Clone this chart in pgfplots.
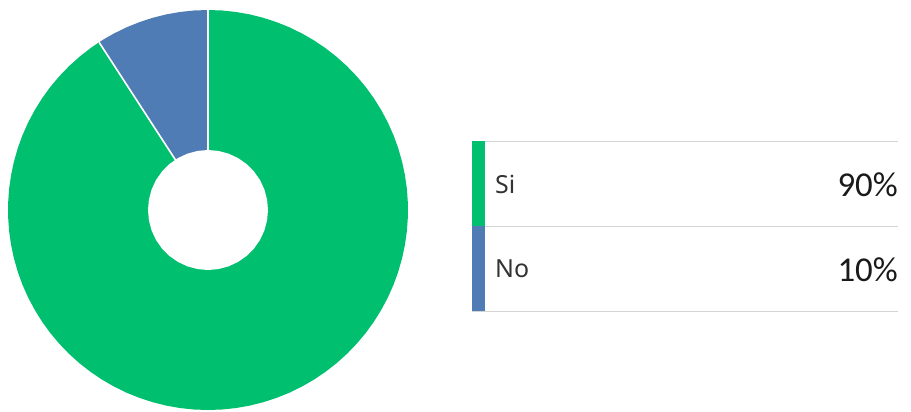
\documentclass[border=0pt]{standalone}
\usepackage{fontspec}
\setmainfont{Noto Sans}
\newfontfamily\numfont{Carlito}
\newfontfamily\labfont{Noto Sans}
\usepackage{pgfplots}
\pgfplotsset{compat=1.18}
\usepgfplotslibrary{polar}
\definecolor{cgreen}{HTML}{00BF6F}
\definecolor{cblue}{HTML}{507CB6}
\definecolor{cline}{HTML}{D4D4D4}
\begin{document}
\begin{tikzpicture}[x=1bp,y=1bp]
\path (0,0) rectangle (911,411);
\begin{polaraxis}[hide axis, width=400bp, height=400bp, scale only axis,
  ymin=0, ymax=1, at={(208bp,201bp)}, anchor=center, clip=false]
% Si : from 123 to 450 degrees
\addplot[fill=cgreen, draw=none] coordinates {(0,0)
(123,1) (126,1) (130,1) (134,1) (138,1) (142,1) (146,1) (150,1) (154,1) (158,1) (162,1)
(166,1) (170,1) (174,1) (178,1) (182,1) (186,1) (190,1) (194,1) (198,1) (202,1)
(206,1) (210,1) (214,1) (218,1) (222,1) (226,1) (230,1) (234,1) (238,1) (242,1)
(246,1) (250,1) (254,1) (258,1) (262,1) (266,1) (270,1) (274,1) (278,1) (282,1)
(286,1) (290,1) (294,1) (298,1) (302,1) (306,1) (310,1) (314,1) (318,1) (322,1)
(326,1) (330,1) (334,1) (338,1) (342,1) (346,1) (350,1) (354,1) (358,1) (362,1)
(366,1) (370,1) (374,1) (378,1) (382,1) (386,1) (390,1) (394,1) (398,1) (402,1)
(406,1) (410,1) (414,1) (418,1) (422,1) (426,1) (430,1) (434,1) (438,1) (442,1)
(446,1) (450,1)} -- cycle;
% No : from 90 to 123 degrees
\addplot[fill=cblue, draw=none] coordinates {(0,0)
(90,1) (94,1) (98,1) (102,1) (106,1) (110,1) (114,1) (118,1) (121,1) (123,1)} -- cycle;
% separators
\addplot[white, line width=1.6bp] coordinates {(90,0) (90,1)};
\addplot[white, line width=1.6bp] coordinates {(123,0) (123,1)};
% hole
\addplot[fill=white, draw=none] coordinates {
(0,0.3) (10,0.3) (20,0.3) (30,0.3) (40,0.3) (50,0.3) (60,0.3) (70,0.3) (80,0.3)
(90,0.3) (100,0.3) (110,0.3) (120,0.3) (130,0.3) (140,0.3) (150,0.3) (160,0.3)
(170,0.3) (180,0.3) (190,0.3) (200,0.3) (210,0.3) (220,0.3) (230,0.3) (240,0.3)
(250,0.3) (260,0.3) (270,0.3) (280,0.3) (290,0.3) (300,0.3) (310,0.3) (320,0.3)
(330,0.3) (340,0.3) (350,0.3)} -- cycle;
\end{polaraxis}
% legend table
\draw[cline, line width=1bp] (472,270) -- (898,270);
\draw[cline, line width=1bp] (472,185) -- (898,185);
\draw[cline, line width=1bp] (472,100) -- (898,100);
\fill[cgreen] (472,185) rectangle (485,270);
\fill[cblue] (472,100) rectangle (485,185);
\node[anchor=west, font=\labfont\fontsize{25}{28}\selectfont, text=black!80, inner sep=0] at (495,227) {Si};
\node[anchor=west, font=\labfont\fontsize{25}{28}\selectfont, text=black!80, inner sep=0] at (495,142) {No};
\node[anchor=east, font=\numfont\fontsize{35}{40}\selectfont, text=black!90, inner sep=0] at (898,226) {90\%};
\node[anchor=east, font=\numfont\fontsize{35}{40}\selectfont, text=black!90, inner sep=0] at (898,141) {10\%};
\end{tikzpicture}
\end{document}
